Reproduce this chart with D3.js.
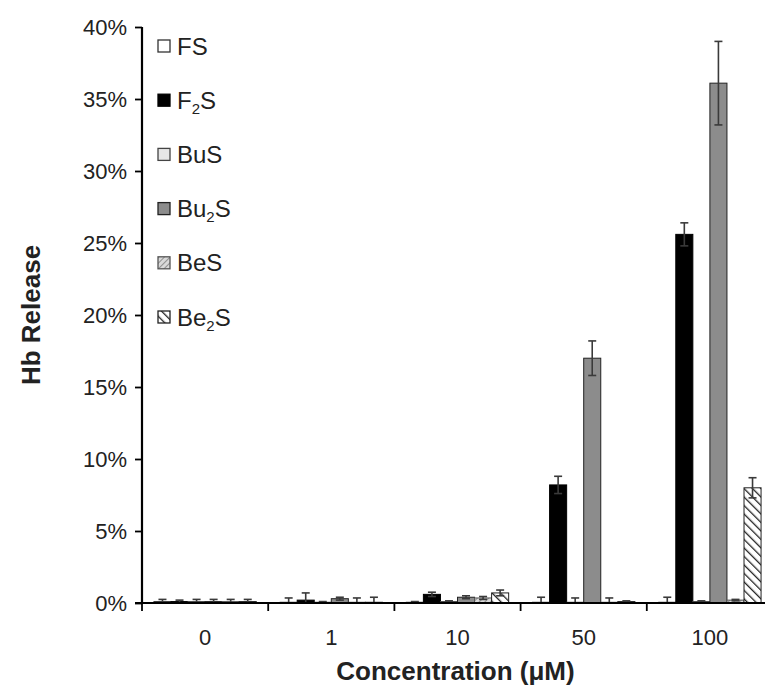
<!DOCTYPE html>
<html>
<head>
<meta charset="utf-8">
<script src="https://cdn.jsdelivr.net/npm/d3@7"></script>
<style>
  body { margin: 0; background: #fff; }
  text { font-family: "Liberation Sans", Arial, sans-serif; fill: #222; }
</style>
</head>
<body>
<div id="chart"></div>
<script>
// categories (concentration, µM)
const concentrations = ['0', '1', '10', '50', '100'];
// series in legend order
const seriesNames = ['FS', 'F2S', 'BuS', 'Bu2S', 'BeS', 'Be2S'];
// mean Hb release (%) per concentration
const fsValues = [0.1, 0.05, 0.05, 0.05, 0.05];
const f2sValues = [0.1, 0.2, 0.6, 8.2, 25.6];
const busValues = [0.1, 0.05, 0.1, 0.05, 0.1];
const bu2sValues = [0.1, 0.3, 0.4, 17.0, 36.1];
const besValues = [0.1, 0.05, 0.35, 0.05, 0.2];
const be2sValues = [0.1, 0.05, 0.7, 0.1, 8.0];
// error (%) per concentration
const fsErr = [0.15, 0.3, 0.05, 0.35, 0.35];
const f2sErr = [0.1, 0.5, 0.15, 0.6, 0.8];
const busErr = [0.15, 0.05, 0.05, 0.3, 0.05];
const bu2sErr = [0.15, 0.1, 0.1, 1.2, 2.9];
const besErr = [0.15, 0.3, 0.1, 0.3, 0.05];
const be2sErr = [0.15, 0.35, 0.2, 0.05, 0.7];
// y tick labels
const yTicks = [0, 5, 10, 15, 20, 25, 30, 35, 40];

const valuesBySeries = {
  FS: fsValues, F2S: f2sValues, BuS: busValues,
  Bu2S: bu2sValues, BeS: besValues, Be2S: be2sValues
};
const errBySeries = {
  FS: fsErr, F2S: f2sErr, BuS: busErr,
  Bu2S: bu2sErr, BeS: besErr, Be2S: be2sErr
};

// legend labels with subscript part
const labelParts = {
  FS: ['FS'], F2S: ['F', '2', 'S'], BuS: ['BuS'],
  Bu2S: ['Bu', '2', 'S'], BeS: ['BeS'], Be2S: ['Be', '2', 'S']
};

const width = 765;
const height = 685;
const plotLeft = 142;
const plotRight = 773;
const plotTop = 27;
const plotBottom = 603;
const fontFamily = '"Liberation Sans", Arial, sans-serif';

const svg = d3.select('#chart')
  .append('svg')
  .attr('width', width)
  .attr('height', height);

// hatch patterns
const defs = svg.append('defs');
const pBeS = defs.append('pattern')
  .attr('id', 'hatchBeS')
  .attr('patternUnits', 'userSpaceOnUse')
  .attr('width', 4).attr('height', 4)
  .attr('patternTransform', 'rotate(45)');
pBeS.append('rect').attr('width', 4).attr('height', 4).attr('fill', '#d9d9d9');
pBeS.append('line').attr('x1', 0).attr('y1', 0).attr('x2', 0).attr('y2', 4)
  .attr('stroke', '#777').attr('stroke-width', 1.5);

const pBe2S = defs.append('pattern')
  .attr('id', 'hatchBe2S')
  .attr('patternUnits', 'userSpaceOnUse')
  .attr('width', 6).attr('height', 6)
  .attr('patternTransform', 'rotate(-45)');
pBe2S.append('rect').attr('width', 6).attr('height', 6).attr('fill', '#fff');
pBe2S.append('line').attr('x1', 0).attr('y1', 0).attr('x2', 0).attr('y2', 6)
  .attr('stroke', '#222').attr('stroke-width', 2.6);

const fills = {
  FS: '#ffffff', F2S: '#000000', BuS: '#e6e6e6',
  Bu2S: '#8c8c8c', BeS: 'url(#hatchBeS)', Be2S: 'url(#hatchBe2S)'
};
const strokes = {
  FS: '#333', F2S: '#000', BuS: '#444', Bu2S: '#222', BeS: '#555', Be2S: '#222'
};

// scales
const x0 = d3.scaleBand()
  .domain(concentrations)
  .range([plotLeft, plotRight])
  .padding(0);
const x1 = d3.scaleBand()
  .domain(seriesNames)
  .range([0, x0.bandwidth()])
  .paddingInner(0)
  .paddingOuter(0.7);
const y = d3.scaleLinear()
  .domain([0, 40])
  .range([plotBottom, plotTop]);

// flatten data
const rows = [];
concentrations.forEach((c, i) => {
  seriesNames.forEach((s) => {
    rows.push({ c, s, v: valuesBySeries[s][i], e: errBySeries[s][i] });
  });
});

// bars
svg.append('g')
  .selectAll('rect')
  .data(rows)
  .join('rect')
  .attr('x', (d) => x0(d.c) + x1(d.s))
  .attr('y', (d) => y(d.v))
  .attr('width', x1.bandwidth())
  .attr('height', (d) => plotBottom - y(d.v))
  .attr('fill', (d) => fills[d.s])
  .attr('stroke', (d) => strokes[d.s])
  .attr('stroke-width', 1);

// error bars
const eb = svg.append('g')
  .attr('stroke', '#3a3a3a')
  .attr('stroke-width', 1.6);
const cx = (d) => x0(d.c) + x1(d.s) + x1.bandwidth() / 2;
eb.selectAll('line.v')
  .data(rows)
  .join('line')
  .attr('class', 'v')
  .attr('x1', cx).attr('x2', cx)
  .attr('y1', (d) => y(Math.max(0, d.v - d.e)))
  .attr('y2', (d) => y(d.v + d.e));
eb.selectAll('line.cap')
  .data(rows)
  .join('line')
  .attr('class', 'cap')
  .attr('x1', (d) => cx(d) - 4).attr('x2', (d) => cx(d) + 4)
  .attr('y1', (d) => y(d.v + d.e))
  .attr('y2', (d) => y(d.v + d.e));
eb.selectAll('line.capLow')
  .data(rows.filter((d) => d.v - d.e > 0))
  .join('line')
  .attr('class', 'capLow')
  .attr('x1', (d) => cx(d) - 4).attr('x2', (d) => cx(d) + 4)
  .attr('y1', (d) => y(d.v - d.e))
  .attr('y2', (d) => y(d.v - d.e));

// y axis
const yAxis = d3.axisLeft(y)
  .tickValues(yTicks)
  .tickFormat((d) => d + '%')
  .tickSize(7)
  .tickPadding(8);
const gy = svg.append('g')
  .attr('transform', `translate(${plotLeft},0)`)
  .call(yAxis);
gy.select('.domain').attr('stroke', '#000').attr('stroke-width', 2.2)
  .attr('d', `M0,${plotTop}V${plotBottom}`);
gy.selectAll('.tick line').attr('stroke', '#000').attr('stroke-width', 1.8);
gy.selectAll('.tick text')
  .style('font-size', '22px')
  .style('font-family', fontFamily)
  .attr('fill', '#222');

// x axis
const gx = svg.append('g')
  .attr('transform', `translate(0,${plotBottom})`)
  .call(d3.axisBottom(x0).tickSize(0).tickPadding(26));
gx.select('.domain').attr('stroke', '#000').attr('stroke-width', 2.2)
  .attr('d', `M${plotLeft - 7},0H${plotRight}`);
gx.selectAll('.tick text')
  .style('font-size', '22px')
  .style('font-family', fontFamily)
  .attr('fill', '#222');
// category separator ticks
gx.selectAll('line.sep')
  .data(concentrations)
  .join('line')
  .attr('class', 'sep')
  .attr('x1', (d) => x0(d)).attr('x2', (d) => x0(d))
  .attr('y1', 0).attr('y2', 8)
  .attr('stroke', '#000').attr('stroke-width', 1.8);

// axis titles
svg.append('text')
  .attr('x', (plotLeft + plotRight) / 2 - 2)
  .attr('y', 680)
  .attr('text-anchor', 'middle')
  .style('font-size', '26px')
  .style('font-weight', 'bold')
  .text('Concentration (μM)');
svg.append('text')
  .attr('transform', 'translate(40,315) rotate(-90)')
  .attr('text-anchor', 'middle')
  .style('font-size', '26px')
  .style('font-weight', 'bold')
  .text('Hb Release');

// legend
const legend = svg.append('g')
  .attr('transform', 'translate(158,46)');
const item = legend.selectAll('g')
  .data(seriesNames)
  .join('g')
  .attr('transform', (d, i) => `translate(0,${i * 54.2})`);
item.append('rect')
  .attr('x', 0).attr('y', -6)
  .attr('width', 12).attr('height', 12)
  .attr('fill', (d) => fills[d])
  .attr('stroke', (d) => strokes[d])
  .attr('stroke-width', 1.3);
const lt = item.append('text')
  .attr('x', 19)
  .attr('y', 8.5)
  .style('font-size', '24px');
lt.each(function (d) {
  const parts = labelParts[d];
  const t = d3.select(this);
  if (parts.length === 1) {
    t.text(parts[0]);
  } else {
    t.append('tspan').text(parts[0]);
    t.append('tspan').attr('dy', 5).style('font-size', '15px').text(parts[1]);
    t.append('tspan').attr('dy', -5).text(parts[2]);
  }
});
</script>
</body>
</html>
